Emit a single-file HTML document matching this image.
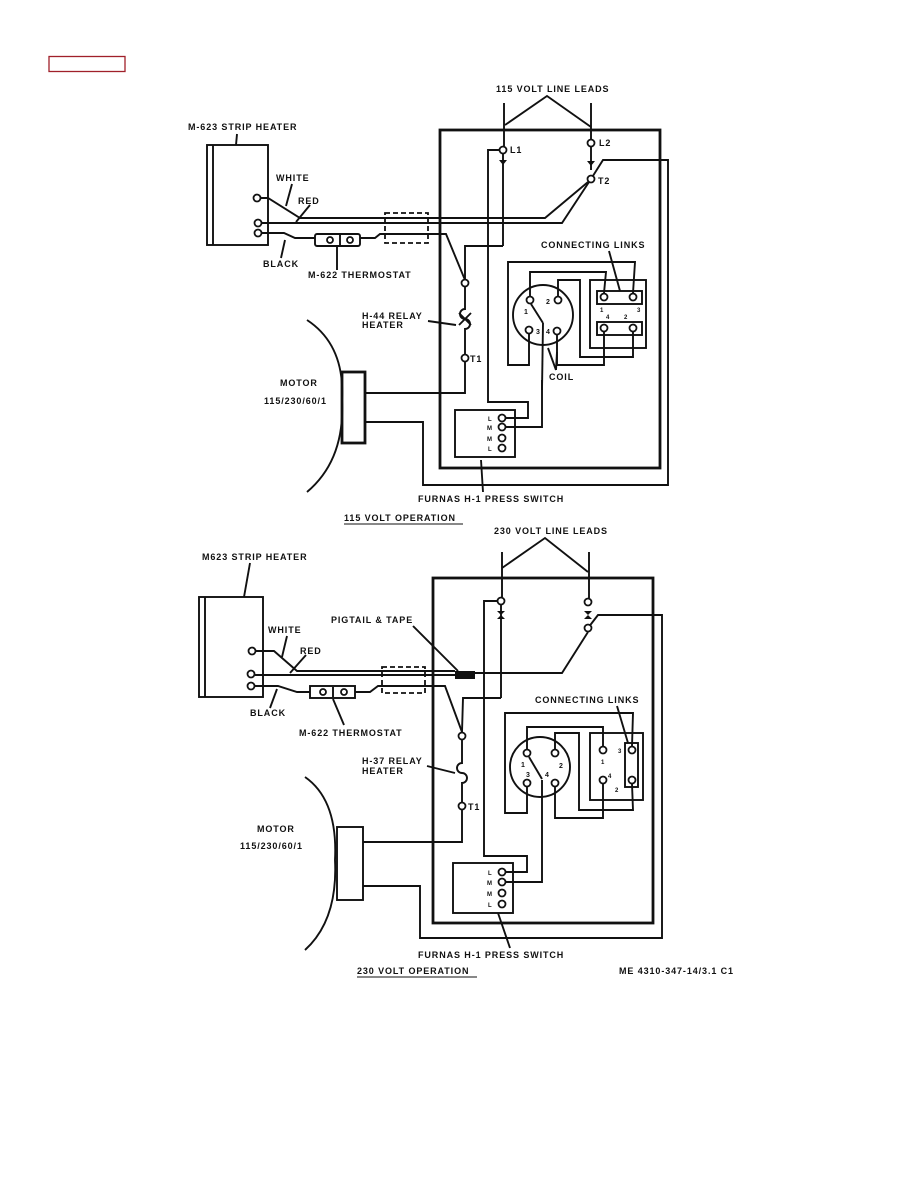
<!DOCTYPE html>
<html><head><meta charset="utf-8"><style>
html,body{margin:0;padding:0;background:#fff;}
svg{display:block;}
text{font-family:"Liberation Sans",sans-serif;font-weight:bold;font-size:9px;letter-spacing:0.9px;fill:#111;}
.w{fill:none;stroke:#111;stroke-width:1.9;}
.t{fill:none;stroke:#111;stroke-width:2.8;}
.c{fill:#fff;stroke:#111;stroke-width:1.8;}
</style></head><body>
<svg width="918" height="1188" viewBox="0 0 918 1188" xmlns="http://www.w3.org/2000/svg">
<rect x="49" y="56.5" width="76" height="15" fill="none" stroke="#a0202a" stroke-width="1.3"/>

<!-- ============ TOP DIAGRAM ============ -->
<text x="496" y="92">115 VOLT LINE LEADS</text>
<polyline class="w" points="505,125 547,96 591,127"/>
<line class="w" x1="504" y1="103" x2="504" y2="146"/>
<line class="w" x1="591" y1="103" x2="591" y2="139"/>
<rect class="t" x="440" y="130" width="220" height="338"/>
<polyline class="w" points="365,422 423,422 423,485 668,485 668,160 603,160 591,179"/>
<circle class="c" cx="503" cy="150" r="3.5"/>
<text x="510" y="153">L1</text>
<path d="M499,160 h8 l-4,5 z" fill="#111"/><line class="w" x1="503" y1="154" x2="503" y2="246"/>
<circle class="c" cx="591" cy="143" r="3.5"/>
<text x="599" y="146">L2</text>
<path d="M587,161 h8 l-4,5 z" fill="#111"/><line class="w" x1="591" y1="147" x2="591" y2="170"/>
<circle class="c" cx="591" cy="179" r="3.5"/>
<text x="598" y="184">T2</text>
<text x="188" y="130">M-623 STRIP HEATER</text>
<line class="w" x1="237" y1="134" x2="236" y2="145"/>
<rect class="w" x="207" y="145" width="61" height="100"/>
<line class="w" x1="213" y1="145" x2="213" y2="245"/>
<circle class="c" cx="257" cy="198" r="3.5"/>
<circle class="c" cx="258" cy="223" r="3.5"/>
<circle class="c" cx="258" cy="233" r="3.5"/>
<text x="276" y="181">WHITE</text>
<text x="298" y="204">RED</text>
<line class="w" x1="292" y1="184" x2="286" y2="206"/>
<line class="w" x1="310" y1="205" x2="296" y2="222"/>
<polyline class="w" points="261,198 268,198 300,218 545,218 588,182"/>
<polyline class="w" points="262,223 562,223 589,182"/>
<polyline class="w" points="262,233 284,233 295,238 315,238"/>
<rect class="w" x="315" y="234" width="45" height="12" rx="2"/>
<circle class="c" cx="330" cy="240" r="3"/><circle class="c" cx="350" cy="240" r="3"/>
<line class="w" x1="340" y1="235" x2="340" y2="245"/>
<polyline class="w" points="360,238 375,238 380,234 446,234 465,280"/>
<rect x="385" y="213" width="43" height="30" fill="none" stroke="#111" stroke-width="1.8" stroke-dasharray="5,3"/>
<text x="263" y="267">BLACK</text>
<line class="w" x1="281" y1="258" x2="285" y2="240"/>
<text x="308" y="278">M-622 THERMOSTAT</text>
<line class="w" x1="337" y1="270" x2="337" y2="247"/>
<polyline class="w" points="503,246 465,246 465,279"/>
<circle class="c" cx="465" cy="283" r="3.5"/>
<path class="w" d="M465,287 V309 a5,5 0 0 0 0,10 M465,319 a5,5 0 0 1 0,10 V354"/>
<line class="w" x1="459" y1="313" x2="471" y2="325"/><line class="w" x1="471" y1="313" x2="459" y2="325"/>
<circle class="c" cx="465" cy="358" r="3.5"/>
<text x="470" y="362">T1</text>
<polyline class="w" points="465,362 465,393 365,393"/>
<text x="362" y="319">H-44 RELAY</text>
<text x="362" y="328">HEATER</text>
<line class="w" x1="428" y1="321" x2="456" y2="325"/>
<path class="w" d="M307,320 Q345,345 342,400 Q345,460 307,492"/>
<rect class="t" x="342" y="372" width="23" height="71"/>
<text x="280" y="386">MOTOR</text>
<text x="264" y="404">115/230/60/1</text>
<rect class="w" x="455" y="410" width="60" height="47"/>
<circle class="c" cx="502" cy="418" r="3.5"/><circle class="c" cx="502" cy="427" r="3.5"/>
<circle class="c" cx="502" cy="438" r="3.5"/><circle class="c" cx="502" cy="448" r="3.5"/>
<text x="488" y="421" style="font-size:6px">L</text><text x="487" y="430" style="font-size:6px">M</text>
<text x="487" y="441" style="font-size:6px">M</text><text x="488" y="451" style="font-size:6px">L</text>
<polyline class="w" points="499,150 488,150 488,402 528,402 528,418 506,418"/>
<polyline class="w" points="506,427 542,427 542,380"/>
<text x="418" y="502">FURNAS H-1 PRESS SWITCH</text>
<line class="w" x1="483" y1="492" x2="481" y2="460"/>
<text x="344" y="521">115 VOLT OPERATION</text>
<line x1="344" y1="524" x2="463" y2="524" stroke="#111" stroke-width="1"/>
<circle class="w" cx="543" cy="315" r="30"/>
<circle class="c" cx="530" cy="300" r="3.5"/><circle class="c" cx="558" cy="300" r="3.5"/>
<circle class="c" cx="529" cy="330" r="3.5"/><circle class="c" cx="557" cy="331" r="3.5"/>
<text x="524" y="314" style="font-size:7px">1</text><text x="546" y="304" style="font-size:7px">2</text>
<text x="536" y="334" style="font-size:7px">3</text><text x="546" y="334" style="font-size:7px">4</text>
<line class="w" x1="531" y1="304" x2="543" y2="323"/><line class="w" x1="543" y1="323" x2="542" y2="390"/>
<rect class="w" x="590" y="280" width="56" height="68"/>
<rect class="w" x="597" y="291" width="45" height="13"/>
<rect class="w" x="597" y="322" width="45" height="13"/>
<circle class="c" cx="604" cy="297" r="3.5"/><circle class="c" cx="633" cy="297" r="3.5"/>
<circle class="c" cx="604" cy="328" r="3.5"/><circle class="c" cx="633" cy="328" r="3.5"/>
<text x="600" y="312" style="font-size:6px">1</text><text x="637" y="312" style="font-size:6px">3</text>
<text x="606" y="319" style="font-size:6px">4</text><text x="624" y="319" style="font-size:6px">2</text>
<polyline class="w" points="633,293 635,262 508,262 508,365 529,365 529,334"/>
<polyline class="w" points="530,296 530,272 606,272 604,293"/>
<polyline class="w" points="558,296 558,280 580,280 580,357 633,357 633,332"/>
<polyline class="w" points="557,335 557,365 604,365 604,332"/>
<text x="541" y="248">CONNECTING LINKS</text>
<line class="w" x1="609" y1="251" x2="620" y2="291"/>
<text x="549" y="380">COIL</text>
<line class="w" x1="556" y1="370" x2="548" y2="348"/><line class="w" x1="556" y1="370" x2="557" y2="352"/>

<!-- ============ BOTTOM DIAGRAM ============ -->
<text x="494" y="534">230 VOLT LINE LEADS</text>
<polyline class="w" points="502,568 545,538 588,572"/>
<line class="w" x1="502" y1="552" x2="502" y2="597"/>
<line class="w" x1="589" y1="552" x2="589" y2="598"/>
<rect class="t" x="433" y="578" width="220" height="345"/>
<polyline class="w" points="363,886 420,886 420,938 662,938 662,615 598,615 588,628"/>
<circle class="c" cx="501" cy="601" r="3.5"/>
<path d="M497,611 h8 l-4,4 l4,4 h-8 l4,-4 z" fill="#111"/><line class="w" x1="501" y1="605" x2="501" y2="698"/>
<circle class="c" cx="588" cy="602" r="3.5"/>
<path d="M584,611 h8 l-4,4 l4,4 h-8 l4,-4 z" fill="#111"/>
<circle class="c" cx="588" cy="628" r="3.5"/>
<text x="202" y="560">M623 STRIP HEATER</text>
<line class="w" x1="250" y1="563" x2="244" y2="597"/>
<rect class="w" x="199" y="597" width="64" height="100"/>
<line class="w" x1="205" y1="597" x2="205" y2="697"/>
<circle class="c" cx="252" cy="651" r="3.5"/>
<circle class="c" cx="251" cy="674" r="3.5"/>
<circle class="c" cx="251" cy="686" r="3.5"/>
<text x="268" y="633">WHITE</text>
<text x="300" y="654">RED</text>
<line class="w" x1="287" y1="636" x2="282" y2="657"/>
<line class="w" x1="306" y1="655" x2="290" y2="673"/>
<polyline class="w" points="256,651 274,651 297,671 455,671"/>
<line class="w" x1="255" y1="675" x2="455" y2="675"/>
<rect x="455" y="671" width="20" height="8" fill="#111"/>
<polyline class="w" points="475,673 562,673 588,632"/>
<polyline class="w" points="255,686 278,686 297,692 310,692"/>
<rect class="w" x="310" y="686" width="45" height="12"/>
<circle class="c" cx="323" cy="692" r="3"/><circle class="c" cx="344" cy="692" r="3"/>
<line class="w" x1="333" y1="687" x2="333" y2="697"/>
<polyline class="w" points="355,692 370,692 378,686 445,686 462,732"/>
<rect x="382" y="667" width="43" height="26" fill="none" stroke="#111" stroke-width="1.8" stroke-dasharray="5,3"/>
<text x="331" y="623">PIGTAIL &amp; TAPE</text>
<line class="w" x1="413" y1="626" x2="458" y2="671"/>
<text x="250" y="716">BLACK</text>
<line class="w" x1="270" y1="708" x2="277" y2="689"/>
<text x="299" y="736">M-622 THERMOSTAT</text>
<line class="w" x1="344" y1="725" x2="333" y2="699"/>
<polyline class="w" points="501,698 463,698 462,732"/>
<circle class="c" cx="462" cy="736" r="3.5"/>
<path class="w" d="M462,740 V763 a5,5 0 0 0 0,10 M462,773 a5,5 0 0 1 0,10 V802"/>
<circle class="c" cx="462" cy="806" r="3.5"/>
<text x="468" y="810">T1</text>
<polyline class="w" points="462,810 462,842 363,842"/>
<text x="362" y="764">H-37 RELAY</text>
<text x="362" y="774">HEATER</text>
<line class="w" x1="427" y1="766" x2="455" y2="773"/>
<path class="w" d="M305,777 Q338,800 335,860 Q338,920 305,950"/>
<rect class="w" x="337" y="827" width="26" height="73"/>
<text x="257" y="832">MOTOR</text>
<text x="240" y="849">115/230/60/1</text>
<rect class="w" x="453" y="863" width="60" height="50"/>
<circle class="c" cx="502" cy="872" r="3.5"/><circle class="c" cx="502" cy="882" r="3.5"/>
<circle class="c" cx="502" cy="893" r="3.5"/><circle class="c" cx="502" cy="904" r="3.5"/>
<text x="488" y="875" style="font-size:6px">L</text><text x="487" y="885" style="font-size:6px">M</text>
<text x="487" y="896" style="font-size:6px">M</text><text x="488" y="907" style="font-size:6px">L</text>
<polyline class="w" points="497,601 484,601 484,856 527,856 527,872 506,872"/>
<polyline class="w" points="506,882 542,882 542,780"/>
<text x="418" y="958">FURNAS H-1 PRESS SWITCH</text>
<line class="w" x1="510" y1="948" x2="498" y2="913"/>
<text x="357" y="974">230 VOLT OPERATION</text>
<line x1="357" y1="977" x2="477" y2="977" stroke="#111" stroke-width="1"/>
<text x="619" y="974">ME 4310-347-14/3.1 C1</text>
<circle class="w" cx="540" cy="767" r="30"/>
<circle class="c" cx="527" cy="753" r="3.5"/><circle class="c" cx="555" cy="753" r="3.5"/>
<circle class="c" cx="527" cy="783" r="3.5"/><circle class="c" cx="555" cy="783" r="3.5"/>
<text x="521" y="767" style="font-size:7px">1</text><text x="559" y="768" style="font-size:7px">2</text>
<text x="526" y="777" style="font-size:7px">3</text><text x="545" y="777" style="font-size:7px">4</text>
<line class="w" x1="529" y1="757" x2="542" y2="779"/>
<rect class="w" x="590" y="733" width="53" height="67"/>
<rect class="w" x="625" y="743" width="13" height="44"/>
<circle class="c" cx="603" cy="750" r="3.5"/><circle class="c" cx="632" cy="750" r="3.5"/>
<circle class="c" cx="603" cy="780" r="3.5"/><circle class="c" cx="632" cy="780" r="3.5"/>
<text x="601" y="764" style="font-size:6px">1</text><text x="618" y="753" style="font-size:6px">3</text>
<text x="608" y="778" style="font-size:6px">4</text><text x="615" y="792" style="font-size:6px">2</text>
<polyline class="w" points="632,746 633,713 505,713 505,813 527,813 527,787"/>
<polyline class="w" points="527,749 527,727 603,727 603,746"/>
<polyline class="w" points="555,749 555,733 579,733 579,810 633,810 632,784"/>
<polyline class="w" points="555,787 555,818 603,818 603,784"/>
<text x="535" y="703">CONNECTING LINKS</text>
<line class="w" x1="617" y1="706" x2="628" y2="743"/>
</svg>
</body></html>
